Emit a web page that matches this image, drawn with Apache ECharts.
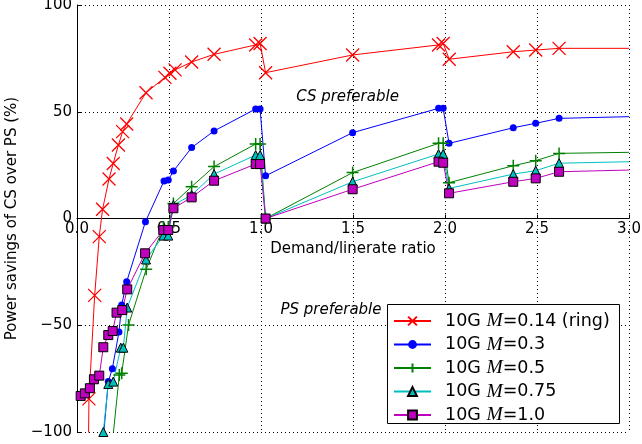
<!DOCTYPE html>
<html><head><meta charset="utf-8">
<script src="https://cdn.jsdelivr.net/npm/echarts@6/dist/echarts.min.js"></script>
<style>html,body{margin:0;padding:0;background:#fff}#c{width:642px;height:444px}</style>
</head><body><div id="c"></div>
<script>
const xTicks = [0, 0.5, 1.0, 1.5, 2.0, 2.5, 3.0];
const yTicks = [-100, -50, 0, 50, 100];
const seriesNames = ['10G M=0.14 (ring)', '10G M=0.3', '10G M=0.5', '10G M=0.75', '10G M=1.0'];

const ringX = [0.061, 0.065, 0.096, 0.121, 0.139, 0.174, 0.197, 0.225, 0.248, 0.27, 0.375, 0.478, 0.505, 0.533, 0.623, 0.745, 0.971, 0.995, 1.025, 1.498, 1.965, 1.99, 2.023, 2.371, 2.493, 2.62, 3.0];
const ringY = [-115, -84.5, -36, -8.5, 4.3, 18.5, 25.8, 34.4, 40.7, 44.3, 58.9, 66.1, 68, 69.6, 73.3, 76.9, 81.3, 82, 68.3, 76.6, 81.3, 82, 74.6, 78.1, 78.9, 79.7, 79.7];

const m03X = [0.143, 0.17, 0.192, 0.228, 0.243, 0.27, 0.372, 0.473, 0.496, 0.524, 0.623, 0.745, 0.971, 0.995, 1.025, 1.498, 1.965, 1.99, 2.022, 2.371, 2.493, 2.62, 3.0];
const m03Y = [-103, -76.4, -70.4, -53.2, -40.5, -29.6, -1.5, 17.6, 18, 22.2, 33.2, 41, 51.3, 51.3, 20, 40.2, 51.6, 51.6, 35.2, 42.5, 44.6, 46.9, 47.7];

const m05X = [0.197, 0.23, 0.243, 0.28, 0.376, 0.47, 0.496, 0.524, 0.623, 0.745, 0.971, 0.995, 1.025, 1.498, 1.965, 1.99, 2.022, 2.371, 2.493, 2.62, 3.0];
const m05Y = [-101, -73.3, -72.5, -49.9, -23.8, -4, -4, 7, 14.9, 24.3, 34.9, 34.9, 0, 21.5, 35.2, 35.2, 16.8, 24.7, 27.1, 30.5, 31];

const m075X = [0.143, 0.17, 0.197, 0.238, 0.252, 0.273, 0.375, 0.47, 0.496, 0.524, 0.623, 0.745, 0.971, 0.995, 1.025, 1.498, 1.965, 1.99, 2.022, 2.371, 2.493, 2.62, 3.0];
const m075Y = [-100, -77.5, -76.4, -60.5, -60.5, -41.7, -19.2, -8, -8, 6.3, 11, 20.8, 29.7, 29.7, 0, 17.2, 30.2, 30.2, 14.1, 20.8, 22.4, 25.9, 26.6];

const m10X = [0.02, 0.043, 0.07, 0.092, 0.121, 0.143, 0.17, 0.194, 0.215, 0.246, 0.273, 0.37, 0.469, 0.496, 0.524, 0.623, 0.745, 0.971, 0.995, 1.025, 1.498, 1.965, 1.99, 2.022, 2.371, 2.493, 2.62, 3.0];
const m10Y = [-83.1, -81.9, -79.5, -75.3, -73.6, -60.3, -54.6, -52.7, -44.1, -42.9, -33.2, -16.3, -5.4, -5.4, 4.8, 9.9, 17.7, 25.5, 25.5, 0, 13.7, 26.6, 26.1, 11.8, 17.2, 18.8, 21.9, 22.7];

function pts(xs, ys) {
  return xs.map((x, i) => {
    const d = { value: [x, ys[i]] };
    if (x >= 3.0) d.symbol = 'none';
    return d;
  });
}

const FONT = 'DejaVu Sans';
const minus = v => String(v).replace('-', '\u2212');

function mk(name, xs, ys, color, symbol, size, itemStyle) {
  return {
    name, type: 'line', data: pts(xs, ys),
    symbol, symbolSize: size, clip: true,
    lineStyle: { color, width: 1 },
    itemStyle: itemStyle,
    emphasis: { disabled: true },
    animation: false
  };
}

const GRID_TOP = 5, GRID_BOTTOM = 12, H = 444;
const plotH = H - GRID_TOP - GRID_BOTTOM;
const zeroOffset = plotH * (0 - (-100)) / 200;

const chart = echarts.init(document.getElementById('c'), null, { renderer: 'canvas' });
chart.setOption({
  animation: false,
  backgroundColor: '#fff',
  grid: { left: 77, right: 13, top: GRID_TOP, bottom: GRID_BOTTOM, containLabel: false, outerBoundsMode: 'none' },
  xAxis: {
    type: 'value', min: 0, max: 3, interval: 0.5,
    position: 'bottom', offset: -zeroOffset,
    name: 'Demand/linerate ratio', nameLocation: 'middle', nameGap: 21,
    nameTextStyle: { fontFamily: FONT, fontSize: 15, color: '#000' },
    axisLine: { onZero: false, lineStyle: { color: '#000', width: 1 } },
    axisTick: { show: true, inside: true, length: 4, lineStyle: { color: '#000' } },
    axisLabel: { fontFamily: FONT, fontSize: 15, color: '#000', margin: 3, formatter: v => v.toFixed(1) },
    splitLine: { show: true, lineStyle: { color: '#000', type: [1, 3], width: 1 } }
  },
  yAxis: {
    type: 'value', min: -100, max: 100, interval: 50,
    name: 'Power savings of CS over PS (%)', nameLocation: 'middle', nameGap: 44,
    nameTextStyle: { fontFamily: FONT, fontSize: 15, color: '#000' },
    axisLine: { show: true, onZero: false, lineStyle: { color: '#000', width: 1 } },
    axisTick: { show: true, inside: true, length: 4, lineStyle: { color: '#000' } },
    axisLabel: { fontFamily: FONT, fontSize: 15, color: '#000', margin: 5, formatter: v => minus(v) },
    splitLine: { show: true, lineStyle: { color: '#000', type: [1, 3], width: 1 } }
  },
  legend: {
    left: 387, top: 305, orient: 'vertical', z: 6,
    data: seriesNames,
    backgroundColor: 'transparent', borderWidth: 0,
    padding: [6, 9, 5, 6],
    itemWidth: 37, itemHeight: 11, itemGap: 3.5,
    textStyle: {
      fontFamily: FONT, fontSize: 17.5, color: '#000', lineHeight: 17, padding: [0, 0, 0, 9],
      rich: { i: { fontFamily: 'Liberation Serif', fontStyle: 'italic', fontSize: 19.5, color: '#000', lineHeight: 17 } }
    },
    formatter: n => n.replace('M=', '{i|M}='),
    selectedMode: false
  },
  graphic: [
    { type: 'rect', shape: { x: 387.5, y: 304.5, width: 232, height: 119 }, style: { fill: '#fff', stroke: '#000', lineWidth: 1 }, z: 5 },
    { type: 'text', x: 347.5, y: 96.7, style: { text: 'CS preferable', fontFamily: FONT, fontSize: 15, fontStyle: 'italic', fill: '#000', align: 'center', verticalAlign: 'middle' }, z: 10 },
    { type: 'text', x: 331, y: 310, style: { text: 'PS preferable', fontFamily: FONT, fontSize: 15, fontStyle: 'italic', fill: '#000', align: 'center', verticalAlign: 'middle' }, z: 10 }
  ],
  series: [
    mk(seriesNames[0], ringX, ringY, '#ff0000', 'path://M0,0L10,10M10,0L0,10', 13, { color: '#ff0000', borderColor: '#ff0000', borderWidth: 1.3 }),
    mk(seriesNames[1], m03X, m03Y, '#0000ff', 'circle', 7, { color: '#0000ff', borderWidth: 0 }),
    mk(seriesNames[2], m05X, m05Y, '#008000', 'path://M5,0L5,10M0,5L10,5', 12, { color: '#008000', borderColor: '#008000', borderWidth: 1.5 }),
    mk(seriesNames[3], m075X, m075Y, '#00bfbf', 'triangle', 9, { color: '#00bfbf', borderColor: '#000', borderWidth: 1 }),
    mk(seriesNames[4], m10X, m10Y, '#bf00bf', 'rect', 9, { color: '#bf00bf', borderColor: '#000', borderWidth: 1 })
  ]
});
</script></body></html>
